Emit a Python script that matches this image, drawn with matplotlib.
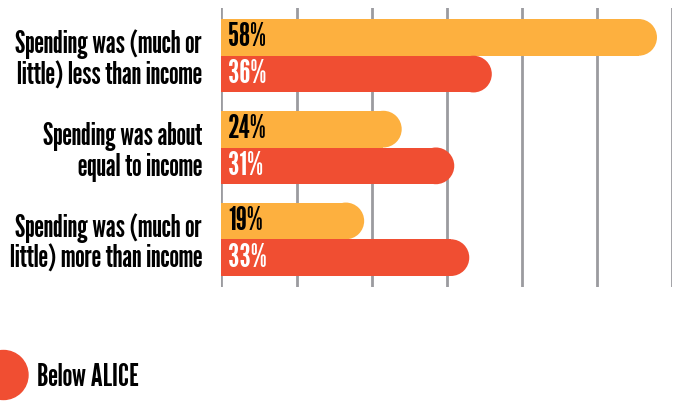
import matplotlib
matplotlib.use('Agg')
import matplotlib.pyplot as plt
from matplotlib.patches import Ellipse, Circle

plt.rcParams['font.family'] = ['League Gothic', 'Oswald', 'DejaVu Sans']

categories = ['Spending was (much or\nlittle) less than income',
              'Spending was about\nequal to income',
              'Spending was (much or\nlittle) more than income']
above_alice = [58, 24, 19]
below_alice = [36, 31, 33]

ORANGE = '#FDB03F'
RED = '#F04E32'
GRID = '#9B9B9F'

fig = plt.figure(figsize=(6.81, 4.01), dpi=100)
ax = fig.add_axes([221.5 / 681, 1 - 287 / 401, 450.5 / 681, 279 / 401])

bar_h = 0.40
# cap width in data units so the rounded end is a true semicircle
px_per_x = 450.5 / 60
px_per_y = 279 / 3.04
cap_w = bar_h * px_per_y / px_per_x


def rounded_bars(values, offset, color, text_color):
    for i, v in enumerate(values):
        y = i + offset
        ax.barh(y, v - cap_w / 2, height=bar_h, color=color, zorder=3)
        ax.add_patch(Ellipse((v - cap_w / 2, y), cap_w, bar_h,
                             color=color, zorder=3, lw=0))
        ax.text(0.9, y, '{}%'.format(v), color=text_color, va='center',
                ha='left', fontsize=23, zorder=4)


rounded_bars(above_alice, -0.2, ORANGE, 'black')
rounded_bars(below_alice, 0.2, RED, 'white')

ax.set_xlim(0, 60)
ax.set_ylim(2.52, -0.52)
ax.set_xticks(range(0, 61, 10))
ax.grid(axis='x', color=GRID, lw=2, zorder=0)
ax.set_yticks(range(len(categories)))
ax.set_yticklabels(categories, fontsize=22, linespacing=1.1)
ax.tick_params(axis='y', length=0, pad=14)
ax.tick_params(axis='x', length=0, labelbottom=False)
for s in ax.spines.values():
    s.set_visible(False)

# legend entry, partly clipped at the left edge
fig.add_artist(Circle((0.035, 0.26), 0.245, color=RED,
                      transform=fig.dpi_scale_trans))
fig.text(37 / 681, 1 - 377 / 401, 'Below ALICE', fontsize=22.5,
         va='center', ha='left')

fig.savefig('out.png', dpi=100)
